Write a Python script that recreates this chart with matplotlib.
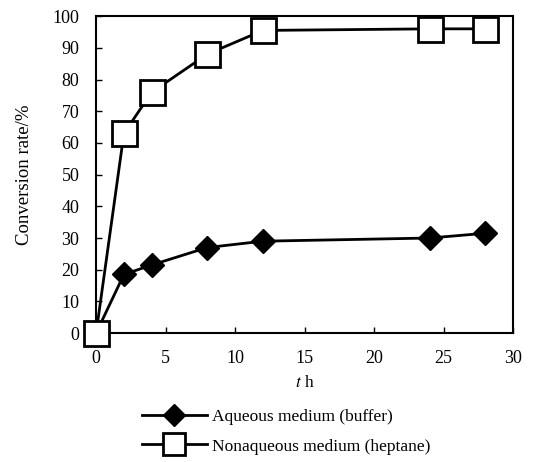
import matplotlib
matplotlib.use('Agg')
import matplotlib.pyplot as plt

plt.rcParams['font.family'] = ['Liberation Serif', 'DejaVu Serif']
plt.rcParams['mathtext.fontset'] = 'stix'

# time (h) and conversion (%)
t_aq = [0, 2, 4, 8, 12, 24, 28]
conv_aq = [0, 18.5, 21.5, 27, 29, 30, 31.5]
t_non = [0, 2, 4, 8, 12, 24, 28]
conv_non = [0, 63, 76, 88, 95.5, 96, 96]

fig = plt.figure(figsize=(5.4, 4.62), dpi=100)
ax = fig.add_axes([0.178, 0.279, 0.772, 0.686])

ax.plot(t_aq, conv_aq, color='black', lw=2, marker='D', ms=12,
        mfc='black', mec='black', label='Aqueous medium (buffer)',
        zorder=3, clip_on=False)
ax.plot(t_non, conv_non, color='black', lw=2, marker='s', ms=18,
        mfc='white', mec='black', mew=2, label='Nonaqueous medium (heptane)',
        zorder=4, clip_on=False)

ax.set_xlim(0, 30)
ax.set_ylim(0, 100)
ax.set_xticks(range(0, 31, 5))
ax.set_yticks(range(0, 101, 10))
ax.tick_params(direction='in', length=4, width=1, labelsize=13)
ax.tick_params(axis='y', pad=12)
ax.tick_params(axis='x', pad=12)
for s in ax.spines.values():
    s.set_linewidth(1.5)

ax.set_xlabel(r'$t$ h', fontsize=12.5, labelpad=6)
ax.set_ylabel('Conversion rate/%', fontsize=13.5, labelpad=14)

fig.legend(loc='upper center', bbox_to_anchor=(0.53, 0.148), frameon=False,
           fontsize=12.5, handlelength=3.7, labelspacing=0.75, handletextpad=0.3,
           markerscale=0.9)

fig.savefig('out.png', dpi=100)
